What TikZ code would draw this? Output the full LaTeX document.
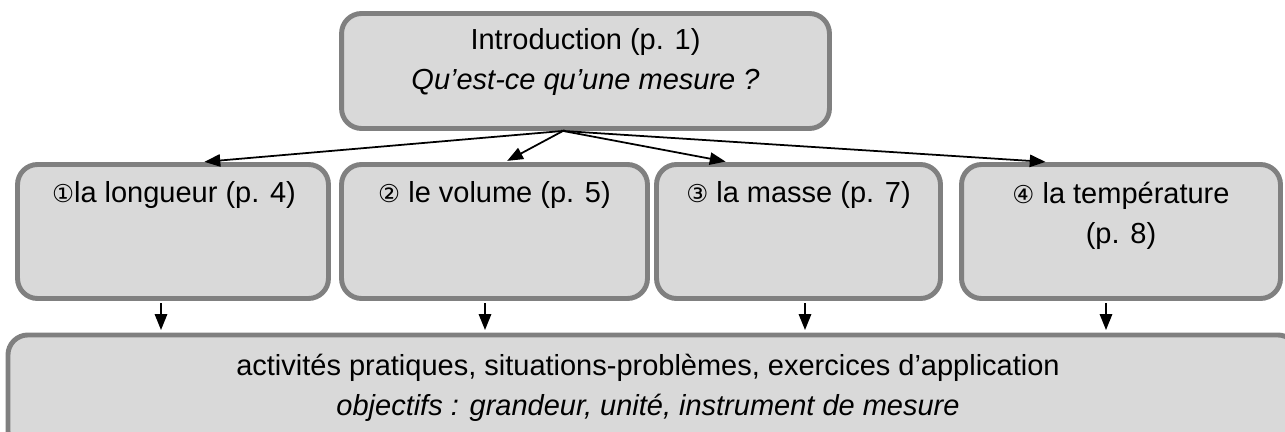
\documentclass[tikz,border=0pt]{standalone}
\usepackage{fontspec}
\setmainfont{Liberation Sans}
\newfontfamily\circfont{DejaVu Sans}
\usepackage{tikz}
\usetikzlibrary{arrows.meta}

\definecolor{boxfill}{HTML}{D9D9D9}
\definecolor{boxline}{HTML}{808080}
\newcommand{\circnum}[1]{{\circfont\fontsize{14}{14}\selectfont #1}}

\begin{document}
\begin{tikzpicture}[
  x=0.02cm, y=-0.02cm,
  box/.style={draw=boxline, fill=boxfill, line width=2.8pt, rounded corners=0.4cm},
  rowbox/.style={box, minimum height=2.68cm, minimum width=#1},
  txt/.style={font=\fontsize{16.5}{22.7}\selectfont, align=center, inner sep=0pt},
  link/.style={-{Triangle[length=9pt,width=7pt]}, line width=1pt}
]
\useasboundingbox (0,0) rectangle (1285,432);

\node[box, minimum width=9.76cm, minimum height=2.3cm] (intro) at (585.5,71) {};
\node[txt] (intro-txt) at (585.5,62) {Introduction (p. 1)\\\textit{Qu’est-ce qu’une mesure ?}};

\node[rowbox=6.22cm] (longueur) at (173,231.5) {};
\node[rowbox=6.12cm] (volume) at (494.5,231.5) {};
\node[rowbox=5.68cm] (masse) at (798.5,231.5) {};
\node[rowbox=6.38cm] (temperature) at (1121,231.5) {};

\node[txt] (longueur-txt) at (174,195) {\circnum{①}la longueur (p. 4)};
\node[txt] (volume-txt) at (494.5,195) {\circnum{②} le volume (p. 5)};
\node[txt] (masse-txt) at (798.5,195) {\circnum{③} la masse (p. 7)};
\node[txt] (temperature-txt) at (1121,215.5) {\circnum{④} la température\\(p. 8)};

\node[box, anchor=north west, minimum width=25.8cm, minimum height=2.32cm] (activites) at (5.5,332.5) {};
\node[txt] (activites-txt) at (648,388) {activités pratiques, situations-problèmes, exercices d’application\\
  \textit{objectifs : grandeur, unité, instrument de mesure}};

\coordinate (hub) at ([xshift=-0.45cm]intro.south);

\draw[link, shorten <=-1pt, shorten >=1.4pt] (hub) -- ([xshift=0.58cm]longueur.north);
\draw[link, shorten <=-1pt, shorten >=1.4pt] (hub) -- ([xshift=0.21cm]volume.north);
\draw[link, shorten <=-1pt, shorten >=1.4pt] (hub) -- ([xshift=-1.41cm]masse.north);
\draw[link, shorten <=-1pt, shorten >=1.4pt] (hub) -- ([xshift=-1.46cm]temperature.north);

\draw[link, shorten <=1.4pt, shorten >=1.4pt] ([xshift=-0.24cm]longueur.south) -- ([xshift=-0.24cm]longueur.south |- activites.north);
\draw[link, shorten <=1.4pt, shorten >=1.4pt] ([xshift=-0.19cm]volume.south) -- ([xshift=-0.19cm]volume.south |- activites.north);
\draw[link, shorten <=1.4pt, shorten >=1.4pt] ([xshift=0.13cm]masse.south) -- ([xshift=0.13cm]masse.south |- activites.north);
\draw[link, shorten <=1.4pt, shorten >=1.4pt] ([xshift=-0.3cm]temperature.south) -- ([xshift=-0.3cm]temperature.south |- activites.north);
\end{tikzpicture}
\end{document}
